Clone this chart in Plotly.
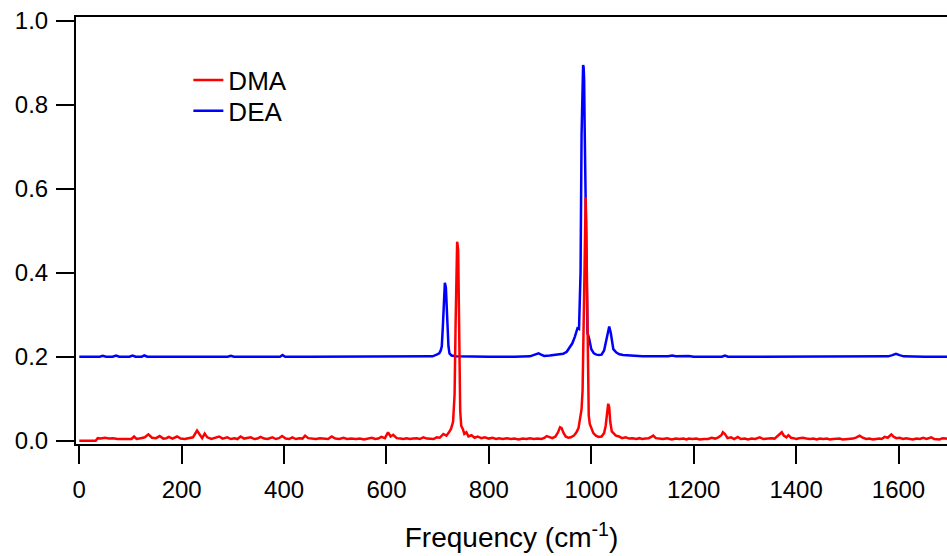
import plotly.graph_objects as go

# DMA spectrum (frequency in cm^-1, intensity)
dma_freq = [0, 10, 20, 32, 36, 42, 50, 58, 66, 75, 85, 95, 102, 107, 112, 120, 128, 135, 142, 150,
            157, 164, 170, 175, 182, 191, 198, 206, 214, 222, 230, 236, 240, 245, 250, 258, 265, 273, 280, 289,
            296, 303, 309, 315, 322, 329, 335, 342, 348, 354, 361, 368, 377, 384, 390, 396, 403, 410, 416, 423,
            430, 436, 441, 447, 455, 462, 470, 478, 486, 493, 500, 508, 516, 523, 531, 540, 548, 556, 564, 571,
            578, 584, 590, 597, 603, 608, 613, 620, 627, 633, 639, 646, 652, 659, 665, 672, 679, 686, 692, 698,
            704, 711, 717, 722, 726, 730, 733, 735, 737, 738, 740, 741, 742, 744, 746, 749, 752, 756, 760, 766,
            772, 778, 785, 792, 800, 807, 814, 820, 827, 835, 843, 850, 858, 866, 873, 880, 888, 895, 903, 909,
            913, 918, 924, 930, 935, 939, 942, 946, 950, 955, 960, 966, 971, 975, 978, 981, 983, 985, 987, 988,
            989, 990, 991, 992, 993, 995, 997, 1000, 1004, 1009, 1014, 1020, 1025, 1028, 1031, 1033, 1035, 1037, 1040, 1044,
            1048, 1054, 1060, 1067, 1074, 1081, 1088, 1094, 1099, 1106, 1112, 1117, 1121, 1126, 1133, 1140, 1148, 1157, 1165, 1172,
            1180, 1186, 1190, 1198, 1205, 1212, 1220, 1228, 1235, 1242, 1248, 1254, 1257, 1261, 1266, 1273, 1279, 1286, 1292, 1300,
            1306, 1313, 1320, 1329, 1336, 1343, 1351, 1358, 1364, 1369, 1372, 1376, 1381, 1385, 1390, 1395, 1400, 1406, 1413, 1420,
            1427, 1434, 1440, 1446, 1453, 1460, 1466, 1472, 1478, 1485, 1491, 1497, 1504, 1511, 1518, 1524, 1530, 1537, 1543, 1550,
            1556, 1562, 1567, 1573, 1579, 1586, 1591, 1596, 1602, 1609, 1615, 1622, 1628, 1635, 1642, 1648, 1655, 1664, 1670, 1680,
            1686, 1693, 1700]
dma_int = [0.0, 0.0, 0.0, 0.0, 0.006, 0.005, 0.007, 0.005, 0.006, 0.004, 0.004, 0.005, 0.004, 0.010, 0.004, 0.006, 0.008, 0.015, 0.007, 0.006,
           0.011, 0.005, 0.006, 0.009, 0.005, 0.010, 0.005, 0.004, 0.006, 0.008, 0.024, 0.013, 0.006, 0.017, 0.008, 0.004, 0.006, 0.010, 0.005, 0.008,
           0.004, 0.006, 0.004, 0.010, 0.005, 0.006, 0.008, 0.004, 0.005, 0.009, 0.005, 0.004, 0.008, 0.004, 0.006, 0.011, 0.005, 0.004, 0.008, 0.004,
           0.006, 0.005, 0.012, 0.006, 0.005, 0.004, 0.006, 0.005, 0.004, 0.010, 0.005, 0.004, 0.007, 0.004, 0.005, 0.004, 0.005, 0.003, 0.005, 0.007,
           0.004, 0.005, 0.009, 0.006, 0.020, 0.010, 0.014, 0.006, 0.005, 0.004, 0.006, 0.004, 0.005, 0.006, 0.004, 0.008, 0.005, 0.005, 0.004, 0.008,
           0.007, 0.016, 0.012, 0.020, 0.028, 0.045, 0.11, 0.28, 0.44, 0.474, 0.455, 0.36, 0.2, 0.07, 0.035, 0.028, 0.016, 0.020, 0.010, 0.013,
           0.007, 0.010, 0.006, 0.008, 0.005, 0.007, 0.004, 0.006, 0.004, 0.006, 0.004, 0.005, 0.003, 0.005, 0.004, 0.006, 0.004, 0.005, 0.004, 0.007,
           0.011, 0.008, 0.006, 0.010, 0.020, 0.032, 0.030, 0.018, 0.010, 0.007, 0.008, 0.012, 0.020, 0.030, 0.048, 0.075, 0.12, 0.28, 0.50, 0.575,
           0.58, 0.52, 0.42, 0.25, 0.13, 0.06, 0.04, 0.028, 0.018, 0.012, 0.009, 0.010, 0.018, 0.035, 0.070, 0.088, 0.080, 0.045, 0.022, 0.018,
           0.012, 0.010, 0.006, 0.008, 0.005, 0.006, 0.004, 0.006, 0.004, 0.005, 0.006, 0.009, 0.012, 0.006, 0.005, 0.004, 0.006, 0.003, 0.005, 0.004,
           0.005, 0.003, 0.005, 0.004, 0.005, 0.003, 0.004, 0.004, 0.007, 0.005, 0.008, 0.013, 0.020, 0.016, 0.006, 0.008, 0.004, 0.009, 0.004, 0.005,
           0.003, 0.005, 0.004, 0.008, 0.004, 0.005, 0.006, 0.005, 0.011, 0.016, 0.020, 0.012, 0.008, 0.013, 0.007, 0.006, 0.004, 0.006, 0.007, 0.005,
           0.004, 0.005, 0.003, 0.005, 0.004, 0.005, 0.003, 0.004, 0.004, 0.005, 0.003, 0.004, 0.004, 0.005, 0.008, 0.012, 0.007, 0.004, 0.005, 0.003,
           0.004, 0.005, 0.004, 0.009, 0.007, 0.015, 0.009, 0.006, 0.007, 0.004, 0.006, 0.005, 0.003, 0.005, 0.004, 0.007, 0.004, 0.008, 0.004, 0.003,
           0.006, 0.005, 0.004]

# DEA spectrum (offset by +0.2 as in the figure)
dea_freq = [0, 20, 40, 46, 52, 65, 72, 78, 98, 104, 110, 122, 127, 133, 180, 230, 290, 296, 302, 350,
            392, 397, 402, 450, 500, 550, 600, 650, 690, 698, 703, 706, 708, 710, 712, 713, 714, 716, 717, 719,
            721, 723, 727, 735, 760, 800, 850, 880, 887, 893, 897, 902, 908, 919, 930, 938, 945, 952, 957, 963,
            968, 971, 973, 976, 978, 979, 981, 983, 984, 985, 986, 987, 988, 989.5, 990.5, 992.5, 996, 1000, 1005, 1010,
            1015, 1020, 1025, 1029, 1032, 1035, 1038, 1041, 1043, 1049, 1055, 1062, 1075, 1100, 1150, 1158, 1165, 1190, 1200, 1255,
            1261, 1267, 1300, 1400, 1500, 1580, 1588, 1595, 1602, 1610, 1650, 1700]
dea_int = [0.200, 0.200, 0.200, 0.202, 0.200, 0.200, 0.203, 0.200, 0.200, 0.203, 0.200, 0.200, 0.203, 0.200, 0.200, 0.200, 0.200, 0.202, 0.200, 0.200,
           0.200, 0.204, 0.200, 0.200, 0.200, 0.200, 0.200, 0.200, 0.201, 0.205, 0.208, 0.215, 0.225, 0.27, 0.33, 0.36, 0.376, 0.365, 0.33, 0.27,
           0.225, 0.208, 0.203, 0.201, 0.200, 0.200, 0.200, 0.201, 0.204, 0.207, 0.208, 0.205, 0.202, 0.203, 0.204, 0.205, 0.207, 0.212, 0.220, 0.232,
           0.248, 0.262, 0.268, 0.266, 0.33, 0.40, 0.73, 0.86, 0.895, 0.89, 0.86, 0.75, 0.637, 0.50, 0.40, 0.257, 0.242, 0.218, 0.208, 0.205,
           0.204, 0.205, 0.215, 0.24, 0.262, 0.272, 0.257, 0.232, 0.218, 0.21, 0.206, 0.204, 0.203, 0.201, 0.201, 0.203, 0.201, 0.202, 0.200, 0.200,
           0.203, 0.200, 0.200, 0.200, 0.200, 0.201, 0.204, 0.207, 0.204, 0.201, 0.200, 0.200]

x_ticks = [0, 200, 400, 600, 800, 1000, 1200, 1400, 1600]
y_ticks = [0.0, 0.2, 0.4, 0.6, 0.8, 1.0]
y_tick_labels = ["0.0", "0.2", "0.4", "0.6", "0.8", "1.0"]

FONT = "Arial, Liberation Sans, sans-serif"

fig = go.Figure()
fig.add_trace(go.Scatter(x=dea_freq, y=dea_int, mode="lines", name="DEA", legend="legend2",
                         line=dict(color="#0000ff", width=2.5)))
fig.add_trace(go.Scatter(x=dma_freq, y=dma_int, mode="lines", name="DMA", legend="legend",
                         line=dict(color="#ff0000", width=2.5)))

leg_common = dict(xanchor="left", yanchor="top", bgcolor="rgba(0,0,0,0)", font=dict(size=26), itemwidth=30)

fig.update_layout(
    width=947, height=556,
    margin=dict(l=76, r=0, t=17, b=112),
    paper_bgcolor="white", plot_bgcolor="white",
    font=dict(family=FONT, size=24, color="black"),
    showlegend=True,
    legend=dict(x=0.129, y=0.907, **leg_common),
    legend2=dict(x=0.129, y=0.835, **leg_common),
    xaxis=dict(range=[-6.4, 1694.7], tickvals=x_ticks, ticks="outside", ticklen=18, tickwidth=2,
               tickcolor="black", showline=True, linecolor="black", linewidth=2, mirror=True,
               showgrid=False, zeroline=False, tickfont=dict(size=24), ticklabelstandoff=5,
               title=dict(text="Frequency (cm<sup>-1</sup>)", font=dict(size=28), standoff=26)),
    yaxis=dict(range=[-0.0079, 1.0095], tickvals=y_ticks, ticktext=y_tick_labels, ticks="outside",
               ticklen=18, tickwidth=2, tickcolor="black", showline=True, linecolor="black", linewidth=2,
               showgrid=False, zeroline=False, tickfont=dict(size=24), ticklabelstandoff=3),
)

fig.write_html("out.html")
